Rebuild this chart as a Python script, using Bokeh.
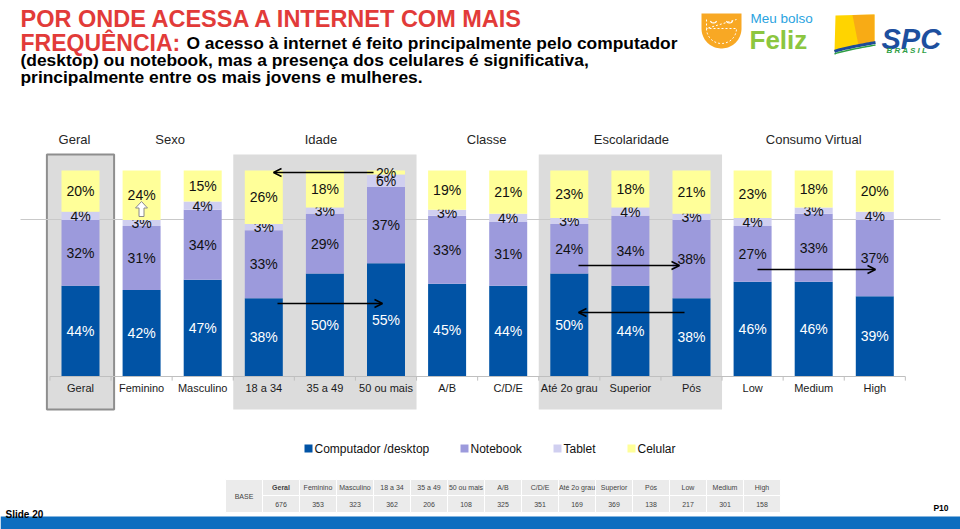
import numpy as np
from bokeh.plotting import figure
from bokeh.models import Range1d, ColumnDataSource, Arrow, OpenHead
from bokeh.core.properties import value
from bokeh.embed import file_html
from bokeh.resources import INLINE

# ---------------- data ----------------
categories = ["Geral", "Feminino", "Masculino", "18 a 34", "35 a 49", "50 ou mais",
              "A/B", "C/D/E", "Até 2o grau", "Superior", "Pós", "Low", "Medium", "High"]
desktop = [44, 42, 47, 38, 50, 55, 45, 44, 50, 44, 38, 46, 46, 39]
notebook = [32, 31, 34, 33, 29, 37, 33, 31, 24, 34, 38, 27, 33, 37]
tablet = [4, 3, 4, 3, 3, 6, 3, 4, 3, 4, 3, 4, 3, 4]
celular = [20, 24, 15, 26, 18, 2, 19, 21, 23, 18, 21, 23, 18, 20]
series_names = ["Computador /desktop", "Notebook", "Tablet", "Celular"]
groups = ["Geral", "Sexo", "Idade", "Classe", "Escolaridade", "Consumo Virtual"]
group_first = [0, 1, 3, 6, 8, 11]
group_last = [0, 2, 5, 7, 10, 13]
base_n = [676, 353, 323, 362, 206, 108, 325, 351, 169, 369, 138, 217, 301, 158]

# ---------------- layout ----------------
W, H = 960, 529
X0, DX = 80.0, 61.1      # pixel centre of first bar, pixel step between bars
Y0, YS = 376.0, 2.06     # pixel of 0 %, pixels per percent
FONT = value("Liberation Sans")
colors = ["#0153A5", "#9C9ADC", "#D0CFF0", "#FFFF99"]
label_colors = ["white", "#111111", "#111111", "#111111"]

p = figure(width=W, height=H, x_range=Range1d(0, W), y_range=Range1d(H, 0),
           x_axis_type=None, y_axis_type=None, output_backend="svg",
           toolbar_location=None, min_border=0, title=None)
p.outline_line_color = None
p.background_fill_color = "white"
p.border_fill_color = "white"
p.extra_x_ranges = {"cat": Range1d(-X0 / DX, (W - X0) / DX)}
p.extra_y_ranges = {"pct": Range1d((Y0 - H) / YS, Y0 / YS)}
CAT = dict(x_range_name="cat", y_range_name="pct")

idx = np.arange(len(categories))

# shaded group panels (Geral, Idade, Escolaridade)
shaded = [0, 2, 4]
margins = {0: 0.55, 2: 0.5, 4: 0.5}
p.quad(left=[group_first[g] - margins[g] for g in shaded],
       right=[group_last[g] + margins[g] for g in shaded],
       bottom=[-16.0] * 3, top=[107.8] * 3,
       fill_color="#DCDCDC", line_color=None, **CAT)
p.quad(left=[group_first[0] - margins[0]], right=[group_last[0] + margins[0]],
       bottom=[-16.0], top=[107.8], fill_color=None,
       line_color="#8E8E8E", line_width=2, **CAT)

# thin grey slide line
p.segment(x0=[20], y0=[219], x1=[940], y1=[219], line_color="#C9C9C9", line_width=1)

# stacked bars
bottom = np.zeros(len(categories))
for vals, col, lcol in zip([desktop, notebook, tablet, celular], colors, label_colors):
    v = np.array(vals, dtype=float)
    top = bottom + v
    p.vbar(x=idx, bottom=bottom, top=top, width=38 / DX, fill_color=col,
           line_color=None, **CAT)
    src = ColumnDataSource(dict(x=idx, y=(bottom + top) / 2,
                                t=[f"{int(a)}%" for a in vals]))
    p.text(x="x", y="y", text="t", source=src, text_font=FONT,
           text_font_size="14px", text_color=lcol, text_align="center",
           text_baseline="middle", **CAT)
    bottom = top

# category axis
p.segment(x0=[-0.5], y0=[0], x1=[len(categories) - 0.5], y1=[0],
          line_color="#BFBFBF", line_width=1, **CAT)
bnd = np.arange(len(categories) + 1) - 0.5
p.segment(x0=bnd, y0=[0] * len(bnd), x1=bnd, y1=[-2] * len(bnd),
          line_color="#BFBFBF", line_width=1, **CAT)
p.text(x=idx, y=[-5.8] * len(idx), text=categories, text_font=FONT,
       text_font_size="11px", text_color="#1A1A1A", text_align="center",
       text_baseline="middle", **CAT)

# group headers
gx = [(a + b) / 2 for a, b in zip(group_first, group_last)]
nudge = [-6, -2, -4, 9, 1, 0]
p.text(x=gx, y=[115.0] * len(groups), text=groups, x_offset=nudge, text_font=FONT,
       text_font_size="13px", text_color="#262626", text_align="center",
       text_baseline="middle", **CAT)

# arrows
arrows = [(373, 172, 273, 172), (277, 303, 382, 303), (578, 265, 679, 265),
          (684, 312, 578, 312), (757, 269, 875, 269)]
for xs, ys, xe, ye in arrows:
    p.add_layout(Arrow(end=OpenHead(size=8, line_width=1.5, line_color="black"),
                       x_start=xs, y_start=ys, x_end=xe, y_end=ye,
                       line_color="black", line_width=1.5))
# white block arrow on Feminino
p.patch(x=[141, 147, 143.5, 143.5, 138.5, 138.5, 135],
        y=[201, 207.5, 207.5, 216, 216, 207.5, 207.5],
        fill_color="white", line_color="#8A8A8A", line_width=1)

# legend
lx = [308, 464, 557, 631]
p.rect(x=lx, y=[448] * 4, width=8, height=8, fill_color=colors, line_color=None)
p.text(x=[a + 6 for a in lx], y=[448] * 4, text=series_names, text_font=FONT,
       text_font_size="12px", text_color="#111111", text_baseline="middle")

# BASE table
tl, tc, t0, t1, t2 = 225, 37, 479, 495, 512
ncol = len(categories)
p.quad(left=[tl], right=[tl + tc], top=[t0], bottom=[t2], fill_color="#EBEBEB",
       line_color="white", line_width=1)
cl = [tl + tc * (k + 1) for k in range(ncol)]
p.quad(left=cl * 2, right=[c + tc for c in cl] * 2,
       top=[t0] * ncol + [t1] * ncol, bottom=[t1] * ncol + [t2] * ncol,
       fill_color="#EBEBEB", line_color="white", line_width=1)
p.text(x=[tl + tc / 2], y=[(t0 + t2) / 2], text=["BASE"], text_font=FONT,
       text_font_size="7px", text_color="#444444", text_align="center",
       text_baseline="middle")
cc = [c + tc / 2 for c in cl]
p.text(x=cc[:1], y=[(t0 + t1) / 2], text=categories[:1], text_font=FONT,
       text_font_size="7px", text_font_style="bold", text_color="#444444",
       text_align="center", text_baseline="middle")
p.text(x=cc[1:], y=[(t0 + t1) / 2] * (ncol - 1), text=categories[1:], text_font=FONT,
       text_font_size="7px", text_color="#444444", text_align="center",
       text_baseline="middle")
p.text(x=cc, y=[(t1 + t2) / 2] * ncol, text=[str(n) for n in base_n], text_font=FONT,
       text_font_size="7px", text_color="#444444", text_align="center",
       text_baseline="middle")

# footer band
p.quad(left=[0], right=[W], top=[516], bottom=[H], fill_color="#0D6DBF", line_color=None)
p.text(x=[5], y=[514], text=["Slide 20"], text_font=FONT, text_font_size="10px",
       text_font_style="bold", text_color="black", text_baseline="alphabetic")
p.text(x=[948], y=[507], text=["P10"], text_font=FONT, text_font_size="8.5px",
       text_font_style="bold", text_color="black", text_align="right",
       text_baseline="alphabetic")

# title
RED = "#E23B39"
p.text(x=[20], y=[18], text=["POR ONDE ACESSA A INTERNET COM MAIS"], text_font=FONT,
       text_font_size="23.5px", text_font_style="bold", text_color=RED,
       text_baseline="alphabetic")
p.text(x=[20], y=[42], text=["FREQUÊNCIA:"], text_font=FONT, text_font_size="23px",
       text_font_style="bold", text_color=RED, text_baseline="alphabetic")
p.text(x=[186, 20, 20], y=[42, 59, 76],
       text=["O acesso à internet é feito principalmente pelo computador",
             "(desktop) ou notebook, mas a presença dos celulares é significativa,",
             "principalmente entre os mais jovens e mulheres."],
       text_font=FONT, text_font_size="17.4px", text_font_style="bold",
       text_color="black", text_baseline="alphabetic")

# logo: Meu bolso Feliz
t = np.linspace(0, np.pi, 40)
px = [701, 741] + list(721 + 20 * np.cos(t))
py = [13, 13] + list(28 + 20 * np.sin(t))
p.patch(x=px, y=py, fill_color="#F8A824", line_color=None)
ts = np.linspace(0, np.pi, 30)
p.line(x=[706, 706] + list(721 + 15 * np.cos(ts)) + [736],
       y=[19, 28] + list(28 + 15 * np.sin(ts)) + [19],
       line_color="white", line_width=1, line_dash="2 2")
te = np.linspace(0.15 * np.pi, 0.85 * np.pi, 10)
for ex in (713, 729):
    p.line(x=ex + 3.5 * np.cos(te), y=19 + 3.5 * np.sin(te), line_color="white",
           line_width=1.2)
p.text(x=[750], y=[18], text=["Meu bolso"], text_font=FONT, text_font_size="13.5px",
       text_color="#2AA3E0", text_baseline="middle")
p.text(x=[749], y=[39], text=["Feliz"], text_font=FONT, text_font_size="26px",
       text_font_style="bold", text_color="#8CC63F", text_baseline="middle")

# logo: SPC Brasil
p.patch(x=[835, 874, 874, 855, 834], y=[15, 14, 42, 46, 51],
        fill_color="#FFD400", line_color=None)
p.patch(x=[852, 874, 874, 858], y=[14.5, 14, 42, 45],
        fill_color="#F6A01A", line_color=None, fill_alpha=0.8)
tb = np.linspace(0, 1, 20)
p.line(x=834 + 41 * tb, y=51 - 9 * tb ** 0.8, line_color="#1D4A9A", line_width=3)
p.line(x=834 + 41 * tb, y=53.5 - 9 * tb ** 0.8, line_color="#2F9E45", line_width=1.5)
p.text(x=[881], y=[38], text=["SPC"], text_font=FONT, text_font_size="29px",
       text_font_style="bold italic", text_color="#1D4F9E", text_baseline="alphabetic")
p.text(x=[886], y=[50], text=["B R A S I L"], text_font=FONT, text_font_size="8px",
       text_font_style="bold italic", text_color="#2F9E45", text_baseline="alphabetic")

open("out.html", "w").write(file_html(p, INLINE))
